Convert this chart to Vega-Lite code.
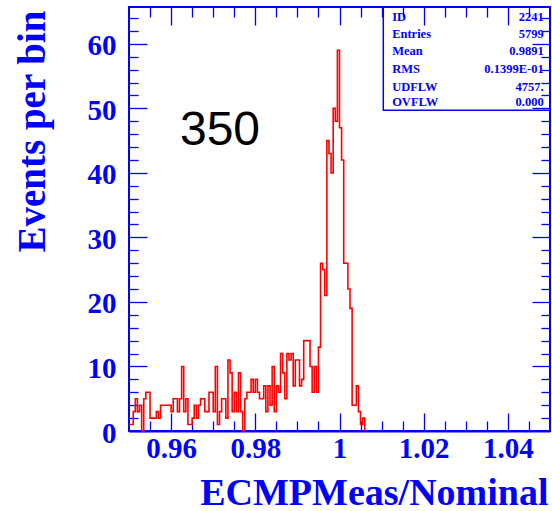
{
  "$schema": "https://vega.github.io/schema/vega-lite/v6.json",
  "width": 421,
  "height": 424,
  "autosize": "none",
  "padding": {"left": 129, "top": 7, "right": 2, "bottom": 80},
  "background": "white",
  "config": {
    "view": {"stroke": "#0000ff", "strokeWidth": 2},
    "axis": {
      "grid": false,
      "domain": false,
      "tickColor": "#0000ff",
      "tickWidth": 1.3,
      "labelColor": "#0000ff",
      "labelFont": "Liberation Serif",
      "labelFontWeight": "bold",
      "labelFontSize": 29,
      "titleColor": "#0000ff",
      "titleFont": "Liberation Serif",
      "titleFontWeight": "bold",
      "titleFontSize": 39,
      "zindex": 1
    }
  },
  "datasets": {
    "hist": [
      {"x": 0.9500, "n": 1}, {"x": 0.9505, "n": 1}, {"x": 0.9510, "n": 3}, {"x": 0.9515, "n": 5}, {"x": 0.9520, "n": 3},
      {"x": 0.9525, "n": 4}, {"x": 0.9530, "n": 0}, {"x": 0.9535, "n": 5}, {"x": 0.9540, "n": 6}, {"x": 0.9545, "n": 6},
      {"x": 0.9550, "n": 2}, {"x": 0.9555, "n": 2}, {"x": 0.9560, "n": 2}, {"x": 0.9565, "n": 3}, {"x": 0.9570, "n": 2},
      {"x": 0.9575, "n": 4}, {"x": 0.9580, "n": 4}, {"x": 0.9585, "n": 4}, {"x": 0.9590, "n": 4}, {"x": 0.9595, "n": 4},
      {"x": 0.9600, "n": 3}, {"x": 0.9605, "n": 5}, {"x": 0.9610, "n": 5}, {"x": 0.9615, "n": 3}, {"x": 0.9620, "n": 5},
      {"x": 0.9625, "n": 10}, {"x": 0.9630, "n": 3}, {"x": 0.9635, "n": 5}, {"x": 0.9640, "n": 1}, {"x": 0.9645, "n": 1},
      {"x": 0.9650, "n": 2}, {"x": 0.9655, "n": 4}, {"x": 0.9660, "n": 2}, {"x": 0.9665, "n": 4}, {"x": 0.9670, "n": 5},
      {"x": 0.9675, "n": 5}, {"x": 0.9680, "n": 3}, {"x": 0.9685, "n": 3}, {"x": 0.9690, "n": 6}, {"x": 0.9695, "n": 6},
      {"x": 0.9700, "n": 3}, {"x": 0.9705, "n": 10}, {"x": 0.9710, "n": 1}, {"x": 0.9715, "n": 3}, {"x": 0.9720, "n": 5},
      {"x": 0.9725, "n": 5}, {"x": 0.9730, "n": 2}, {"x": 0.9735, "n": 11}, {"x": 0.9740, "n": 9}, {"x": 0.9745, "n": 3},
      {"x": 0.9750, "n": 6}, {"x": 0.9755, "n": 3}, {"x": 0.9760, "n": 9}, {"x": 0.9765, "n": 3}, {"x": 0.9770, "n": 0},
      {"x": 0.9775, "n": 5}, {"x": 0.9780, "n": 6}, {"x": 0.9785, "n": 6}, {"x": 0.9790, "n": 8}, {"x": 0.9795, "n": 6},
      {"x": 0.9800, "n": 8}, {"x": 0.9805, "n": 6}, {"x": 0.9810, "n": 5}, {"x": 0.9815, "n": 5}, {"x": 0.9820, "n": 7},
      {"x": 0.9825, "n": 3}, {"x": 0.9830, "n": 7}, {"x": 0.9835, "n": 4}, {"x": 0.9840, "n": 10}, {"x": 0.9845, "n": 3},
      {"x": 0.9850, "n": 7}, {"x": 0.9855, "n": 6}, {"x": 0.9860, "n": 12}, {"x": 0.9865, "n": 9}, {"x": 0.9870, "n": 5},
      {"x": 0.9875, "n": 12}, {"x": 0.9880, "n": 11}, {"x": 0.9885, "n": 12}, {"x": 0.9890, "n": 7}, {"x": 0.9895, "n": 11},
      {"x": 0.9900, "n": 11}, {"x": 0.9905, "n": 7}, {"x": 0.9910, "n": 8}, {"x": 0.9915, "n": 14}, {"x": 0.9920, "n": 14},
      {"x": 0.9925, "n": 14}, {"x": 0.9930, "n": 10}, {"x": 0.9935, "n": 6}, {"x": 0.9940, "n": 10}, {"x": 0.9945, "n": 6},
      {"x": 0.9950, "n": 13}, {"x": 0.9955, "n": 26}, {"x": 0.9960, "n": 25}, {"x": 0.9965, "n": 21}, {"x": 0.9970, "n": 45},
      {"x": 0.9975, "n": 43}, {"x": 0.9980, "n": 40}, {"x": 0.9985, "n": 50}, {"x": 0.9990, "n": 48}, {"x": 0.9995, "n": 59},
      {"x": 1.0000, "n": 47}, {"x": 1.0005, "n": 42}, {"x": 1.0010, "n": 26}, {"x": 1.0015, "n": 26}, {"x": 1.0020, "n": 22},
      {"x": 1.0025, "n": 19}, {"x": 1.0030, "n": 4}, {"x": 1.0035, "n": 4}, {"x": 1.0040, "n": 7}, {"x": 1.0045, "n": 3},
      {"x": 1.0050, "n": 1}, {"x": 1.0055, "n": 2}, {"x": 1.0060, "n": 0}, {"x": 1.0065, "n": 0}, {"x": 1.0070, "n": 0},
      {"x": 1.0075, "n": 0}, {"x": 1.0080, "n": 0}, {"x": 1.0085, "n": 0}, {"x": 1.0090, "n": 0}, {"x": 1.0095, "n": 0},
      {"x": 1.0100, "n": 0}, {"x": 1.0105, "n": 0}, {"x": 1.0110, "n": 0}, {"x": 1.0115, "n": 0}, {"x": 1.0120, "n": 0},
      {"x": 1.0125, "n": 0}, {"x": 1.0130, "n": 0}, {"x": 1.0135, "n": 0}, {"x": 1.0140, "n": 0}, {"x": 1.0145, "n": 0},
      {"x": 1.0150, "n": 0}, {"x": 1.0155, "n": 0}, {"x": 1.0160, "n": 0}, {"x": 1.0165, "n": 0}, {"x": 1.0170, "n": 0},
      {"x": 1.0175, "n": 0}, {"x": 1.0180, "n": 0}, {"x": 1.0185, "n": 0}, {"x": 1.0190, "n": 0}, {"x": 1.0195, "n": 0},
      {"x": 1.0200, "n": 0}, {"x": 1.0205, "n": 0}, {"x": 1.0210, "n": 0}, {"x": 1.0215, "n": 0}, {"x": 1.0220, "n": 0},
      {"x": 1.0225, "n": 0}, {"x": 1.0230, "n": 0}, {"x": 1.0235, "n": 0}, {"x": 1.0240, "n": 0}, {"x": 1.0245, "n": 0},
      {"x": 1.0250, "n": 0}, {"x": 1.0255, "n": 0}, {"x": 1.0260, "n": 0}, {"x": 1.0265, "n": 0}, {"x": 1.0270, "n": 0},
      {"x": 1.0275, "n": 0}, {"x": 1.0280, "n": 0}, {"x": 1.0285, "n": 0}, {"x": 1.0290, "n": 0}, {"x": 1.0295, "n": 0},
      {"x": 1.0300, "n": 0}, {"x": 1.0305, "n": 0}, {"x": 1.0310, "n": 0}, {"x": 1.0315, "n": 0}, {"x": 1.0320, "n": 0},
      {"x": 1.0325, "n": 0}, {"x": 1.0330, "n": 0}, {"x": 1.0335, "n": 0}, {"x": 1.0340, "n": 0}, {"x": 1.0345, "n": 0},
      {"x": 1.0350, "n": 0}, {"x": 1.0355, "n": 0}, {"x": 1.0360, "n": 0}, {"x": 1.0365, "n": 0}, {"x": 1.0370, "n": 0},
      {"x": 1.0375, "n": 0}, {"x": 1.0380, "n": 0}, {"x": 1.0385, "n": 0}, {"x": 1.0390, "n": 0}, {"x": 1.0395, "n": 0},
      {"x": 1.0400, "n": 0}, {"x": 1.0405, "n": 0}, {"x": 1.0410, "n": 0}, {"x": 1.0415, "n": 0}, {"x": 1.0420, "n": 0},
      {"x": 1.0425, "n": 0}, {"x": 1.0430, "n": 0}, {"x": 1.0435, "n": 0}, {"x": 1.0440, "n": 0}, {"x": 1.0445, "n": 0},
      {"x": 1.0450, "n": 0}, {"x": 1.0455, "n": 0}, {"x": 1.0460, "n": 0}, {"x": 1.0465, "n": 0}, {"x": 1.0470, "n": 0},
      {"x": 1.0475, "n": 0}, {"x": 1.0480, "n": 0}, {"x": 1.0485, "n": 0}, {"x": 1.0490, "n": 0}, {"x": 1.0495, "n": 0},
      {"x": 1.0500, "n": 0}
    ],
    "statbox": [
      {"x0": 1.0104, "x1": 1.05, "y0": 49.7, "y1": 65.7}
    ],
    "stats": [
      {"name": "ID", "value": "2241", "y": 63.57},
      {"name": "Entries", "value": "5799", "y": 60.93},
      {"name": "Mean", "value": "0.9891", "y": 58.26},
      {"name": "RMS", "value": "0.1399E-01", "y": 55.53},
      {"name": "UDFLW", "value": "4757.", "y": 52.74},
      {"name": "OVFLW", "value": "0.000", "y": 50.33}
    ],
    "note": [
      {"text": "350", "x": 0.9621, "y": 44.3}
    ]
  },
  "layer": [
    {
      "data": {"name": "hist"},
      "transform": [{"filter": "datum.x <= 1.006"}],
      "mark": {"type": "line", "interpolate": "step-after", "color": "#ff0000", "strokeWidth": 1.6},
      "encoding": {
        "x": {
          "field": "x", "type": "quantitative",
          "scale": {"domain": [0.95, 1.05], "nice": false, "zero": false},
          "axis": {
            "orient": "bottom",
            "domain": true,
            "domainColor": "#0000ff",
            "domainWidth": 2,
            "values": [0.955, 0.96, 0.965, 0.97, 0.975, 0.98, 0.985, 0.99, 0.995, 1, 1.005, 1.01, 1.015, 1.02, 1.025, 1.03, 1.035, 1.04, 1.045],
            "tickSize": {"condition": {"test": "abs(datum.value*50 - round(datum.value*50)) < 0.001", "value": -18}, "value": -10},
            "labelExpr": "abs(datum.value*50 - round(datum.value*50)) < 0.001 ? format(datum.value, '.2~f') : ''",
            "labelPadding": 44,
            "labelBaseline": "alphabetic",
            "labelFlush": false,
            "labelOverlap": false,
            "title": "ECMPMeas/Nominal",
            "titleFontSize": 38,
            "titleX": 419,
            "titleY": 73,
            "titleAlign": "right",
            "titleBaseline": "alphabetic"
          }
        },
        "y": {
          "field": "n", "type": "quantitative",
          "scale": {"domain": [0, 65.7], "nice": false},
          "axis": {
            "orient": "left",
            "values": [0, 2, 4, 6, 8, 10, 12, 14, 16, 18, 20, 22, 24, 26, 28, 30, 32, 34, 36, 38, 40, 42, 44, 46, 48, 50, 52, 54, 56, 58, 60, 62, 64],
            "tickSize": {"condition": {"test": "datum.value % 10 === 0", "value": -18}, "value": -9},
            "labelExpr": "datum.value % 10 === 0 ? datum.label : ''",
            "labelPadding": 31,
            "labelOffset": 2,
            "labelFlush": false,
            "labelOverlap": false,
            "title": "Events per bin",
            "titleX": -84.5,
            "titleY": 3,
            "titleAngle": 270,
            "titleAlign": "right",
            "titleBaseline": "alphabetic"
          }
        }
      }
    },
    {
      "data": {"name": "statbox"},
      "mark": {"type": "rect", "fill": null, "fillOpacity": 0, "stroke": "#0000ff", "strokeWidth": 1.5},
      "encoding": {
        "x": {
          "field": "x0", "type": "quantitative",
          "axis": {
            "orient": "top",
            "values": [0.955, 0.96, 0.965, 0.97, 0.975, 0.98, 0.985, 0.99, 0.995, 1, 1.005, 1.01, 1.015, 1.02, 1.025, 1.03, 1.035, 1.04, 1.045],
            "tickSize": {"condition": {"test": "abs(datum.value*50 - round(datum.value*50)) < 0.001", "value": -18}, "value": -10},
            "labels": false,
            "title": null
          }
        },
        "x2": {"field": "x1"},
        "y": {
          "field": "y0", "type": "quantitative",
          "axis": {
            "orient": "right",
            "values": [2, 4, 6, 8, 10, 12, 14, 16, 18, 20, 22, 24, 26, 28, 30, 32, 34, 36, 38, 40, 42, 44, 46, 48, 50, 52, 54, 56, 58, 60, 62, 64],
            "tickSize": {"condition": {"test": "datum.value % 10 === 0", "value": -18}, "value": -9},
            "labels": false,
            "title": null
          }
        },
        "y2": {"field": "y1"}
      }
    },
    {
      "data": {"name": "stats"},
      "mark": {"type": "text", "align": "left", "baseline": "alphabetic", "font": "Liberation Serif", "fontWeight": "bold", "fontSize": 12.5, "color": "#0000ff"},
      "encoding": {
        "x": {"datum": 1.0125, "type": "quantitative", "axis": null},
        "y": {"field": "y", "type": "quantitative", "axis": null},
        "text": {"field": "name"}
      }
    },
    {
      "data": {"name": "stats"},
      "mark": {"type": "text", "align": "right", "baseline": "alphabetic", "font": "Liberation Serif", "fontWeight": "bold", "fontSize": 12.5, "color": "#0000ff"},
      "encoding": {
        "x": {"datum": 1.0485, "type": "quantitative", "axis": null},
        "y": {"field": "y", "type": "quantitative", "axis": null},
        "text": {"field": "value"}
      }
    },
    {
      "data": {"name": "note"},
      "mark": {"type": "text", "align": "left", "baseline": "alphabetic", "font": "Liberation Sans", "fontSize": 48, "color": "#000000"},
      "encoding": {
        "x": {"field": "x", "type": "quantitative", "axis": null},
        "y": {"field": "y", "type": "quantitative", "axis": null},
        "text": {"field": "text"}
      }
    }
  ],
  "resolve": {"axis": {"x": "independent", "y": "independent"}}
}
